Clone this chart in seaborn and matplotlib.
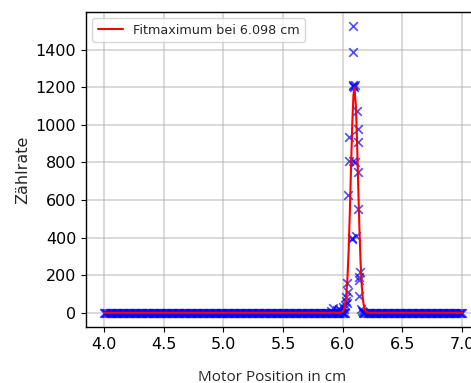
import numpy as np
import pandas as pd
import matplotlib
matplotlib.use("Agg")
import matplotlib.pyplot as plt
import seaborn as sns

# --- data ---
# motor scan positions (cm) for the flat background, counts = 0
bg_positions = np.round(np.arange(4.00, 7.001, 0.01), 3)
bg_positions = bg_positions[(bg_positions < 6.03) | (bg_positions > 6.16)]
bg_counts = [0] * len(bg_positions)

# measured points near the peak (cm, counts)
peak_x = [5.90, 5.92, 5.95, 5.97, 5.98, 6.00, 6.01, 6.02, 6.025, 6.03, 6.035, 6.04,
          6.045, 6.045, 6.05, 6.05, 6.075, 6.08, 6.085, 6.088, 6.09, 6.09, 6.095,
          6.09, 6.10, 6.10, 6.11, 6.12, 6.13, 6.13, 6.13, 6.13, 6.14, 6.14, 6.145,
          6.14, 6.15, 6.16, 6.17]
peak_y = [10, 25, 15, 20, 12, 30, 20, 40, 60, 85, 50, 160,
          625, 110, 935, 810, 390, 400, 1210, 1525, 1390, 1205, 1200,
          810, 1210, 800, 410, 1075, 980, 910, 750, 550, 190, 175, 215,
          90, 20, 10, 5]

# fit curve (cm, counts)
fit_x = [4.00, 5.98, 6.00, 6.01, 6.02, 6.03, 6.04, 6.05, 6.06, 6.07, 6.08, 6.09,
         6.098, 6.11, 6.12, 6.13, 6.14, 6.15, 6.16, 6.17, 6.18, 6.19, 6.20, 6.22, 7.00]
fit_y = [0, 0, 6, 17, 41, 92, 185, 334, 538, 776, 1002, 1158,
         1200, 1108, 917, 679, 450, 267, 141, 67, 29, 11, 4, 0, 0]

legend_label = "Fitmaximum bei 6.098 cm"
x_label = "Motor Position in cm"
y_label = "Zählrate"
x_ticks = [4.0, 4.5, 5.0, 5.5, 6.0, 6.5, 7.0]
y_ticks = [0, 200, 400, 600, 800, 1000, 1200, 1400]

meas = pd.DataFrame({"x": list(bg_positions) + peak_x,
                     "y": bg_counts + peak_y})
fit = pd.DataFrame({"x": fit_x, "y": fit_y})

sns.set_theme(style="ticks", rc={"axes.grid": True})
plt.rcParams["font.family"] = ["DejaVu Sans"]

fig = plt.figure(figsize=(4.71, 3.83), dpi=100)
ax = fig.add_axes([86 / 471, 56 / 383, 394 / 471, 315 / 383])

sns.scatterplot(data=meas, x="x", y="y", ax=ax, marker="x", color="blue",
                alpha=0.7, s=38, linewidth=1.2, zorder=2, legend=False)
sns.lineplot(data=fit, x="x", y="y", ax=ax, color="red", linewidth=1.5,
             label=legend_label, zorder=3, estimator=None, sort=False)

ax.set_xlim(3.85, 7.15)
ax.set_ylim(-76, 1601)
ax.set_xticks(x_ticks)
ax.set_yticks(y_ticks)
ax.tick_params(labelsize=11.5, length=3.5, width=0.8, colors="black")
ax.grid(True, color="#b0b0b0", linewidth=1.2, alpha=0.55)
for sp in ax.spines.values():
    sp.set_color("black")
    sp.set_linewidth(1.0)

ax.set_xlabel(x_label, fontsize=11, family=["Open Sans", "DejaVu Sans"])
ax.xaxis.set_label_coords(0.472, -0.135)
ax.set_ylabel(y_label, fontsize=11.5)

leg = ax.legend(loc="upper left", fontsize=9.2, frameon=True, fancybox=True,
                framealpha=0.8, edgecolor="#cccccc")

fig.savefig("out.png", dpi=100, facecolor="white")
